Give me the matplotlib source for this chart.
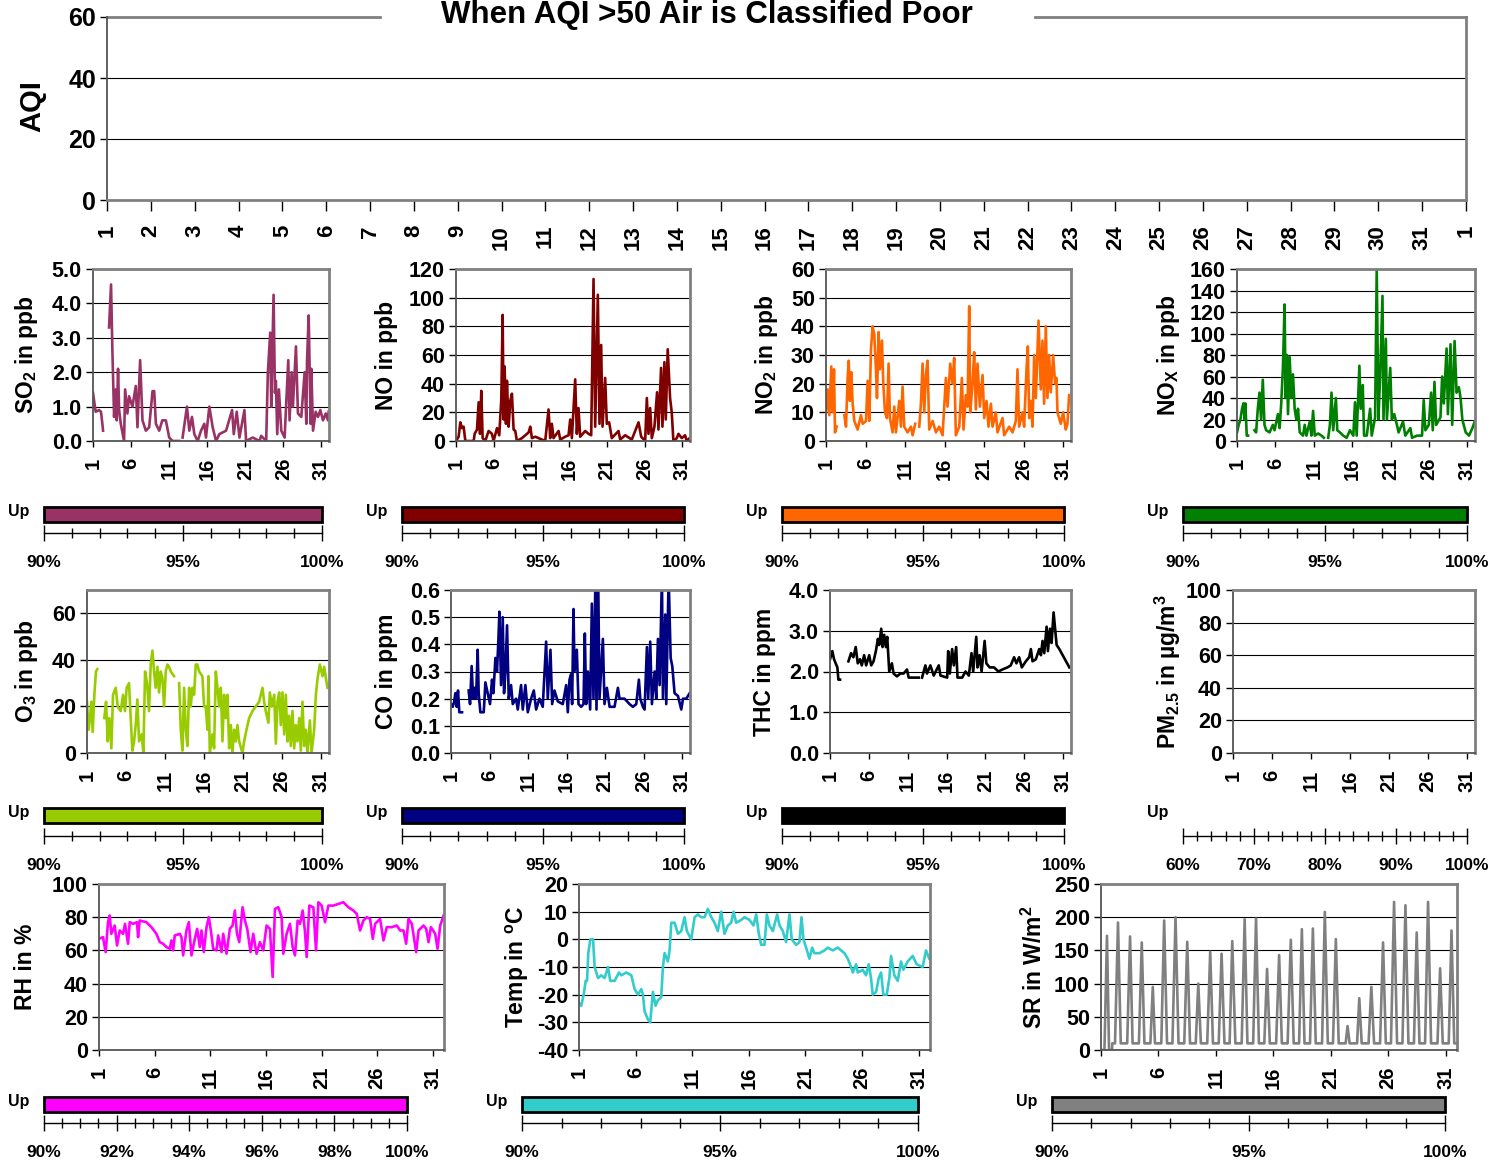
import numpy as np
import matplotlib
matplotlib.use("Agg")
import matplotlib.pyplot as plt
from matplotlib.ticker import MultipleLocator, FuncFormatter

W, H = 1506, 1162

plt.rcParams["font.family"] = ["Liberation Sans", "DejaVu Sans"]
plt.rcParams["font.weight"] = "bold"
plt.rcParams["mathtext.fontset"] = "custom"
plt.rcParams["mathtext.rm"] = "Liberation Sans:bold"
plt.rcParams["mathtext.it"] = "Liberation Sans:bold"
plt.rcParams["mathtext.bf"] = "Liberation Sans:bold"
plt.rcParams["mathtext.default"] = "rm"

nan = np.nan

# ---------- data: (day of month, value) ----------
AQI_DAYS = list(range(1, 33))
AQI_DAY_LABELS = [str(d) for d in range(1, 32)] + ["1"]
PANEL_DAYS = [1, 6, 11, 16, 21, 26, 31]

SO2 = [(1.0, 1.4), (1.35, 0.85), (1.79, 0.9), (2.05, 0.85), (2.23, 0.5), (2.32, 0.3),
       (2.7, nan), (3.11, 3.3), (3.37, 4.55), (3.55, 2.6), (3.77, 0.7), (3.99, 1.5),
       (4.12, 0.6), (4.29, 2.1), (4.43, 0.9), (4.65, 0.5), (5.08, 0.0), (5.22, 1.5),
       (5.52, 0.8), (5.74, 1.3), (6.18, 1.0), (6.62, 1.6), (6.84, 0.4), (7.19, 2.35),
       (7.5, 0.6), (7.94, 0.3), (8.38, 0.4), (8.82, 1.45), (9.04, 1.45), (9.26, 0.5),
       (9.7, 0.3), (10.1, 0.6), (10.57, 0.6), (11.01, 0.1), (11.45, 0.0), (11.9, 0.0),
       (12.33, 0.0), (12.55, nan), (12.77, 0.1), (13.34, 1.0), (13.65, 0.3), (14.0, 0.7),
       (14.31, 0.2), (14.75, 0.0), (15.19, 0.3), (15.62, 0.5), (15.84, 0.1), (16.28, 1.0),
       (16.72, 0.4), (17.16, 0.0), (17.6, 0.2), (18.48, 0.3), (19.27, 0.9), (19.49, 0.2),
       (19.88, 0.85), (20.24, 0.1), (20.89, 0.9), (21.11, 0.0), (21.99, 0.1), (22.87, 0.0),
       (23.09, 0.15), (23.75, 0.0), (23.97, 2.0), (24.28, 3.15), (24.41, 1.0), (24.72, 4.25),
       (24.9, 1.4), (25.02, 1.75), (25.2, 0.2), (25.42, 1.5), (25.73, 0.3), (26.17, 0.1),
       (26.65, 2.35), (26.82, 0.6), (27.09, 2.0), (27.26, 1.0), (27.66, 2.75), (27.92, 0.8),
       (28.36, 0.7), (28.8, 2.0), (29.02, 0.5), (29.11, 2.3), (29.33, 3.65), (29.59, 0.5),
       (29.68, 2.1), (29.9, 0.3), (30.25, 0.85), (30.56, 0.7), (30.86, 0.9), (31.21, 0.6),
       (31.57, 0.8), (31.87, 0.6), (31.95, 0.85)]

NO = [(1.0, 0), (1.35, 3), (1.57, 13), (1.8, 9), (2.01, 10), (2.24, 0), (3.34, 0), (3.47, 5),
      (3.78, 8), (4.0, 27), (4.18, 5), (4.35, 35), (4.53, 2), (4.88, 0), (5.32, 7), (5.76, 5),
      (5.98, 0), (6.43, 9), (6.73, 4), (7.0, 29), (7.18, 88), (7.31, 15), (7.44, 52),
      (7.62, 12), (7.75, 42), (7.97, 10), (8.19, 28), (8.41, 33), (8.63, 8), (8.85, 7),
      (9.07, 0), (9.73, 2), (10.18, 4), (10.62, 6), (10.84, 10), (11.06, 2), (11.5, 3),
      (12.38, 1), (12.82, 0), (13.26, 22), (13.48, 2), (13.7, 12), (13.92, 2), (14.59, 7),
      (14.81, 1), (15.47, 3), (15.91, 4), (16.13, 15), (16.35, 2), (16.79, 43), (17.01, 5),
      (17.23, 23), (17.45, 3), (18.12, 7), (18.56, 5), (18.91, 4), (19.22, 113), (19.44, 10),
      (19.79, 102), (20.01, 12), (20.23, 67), (20.41, 10), (20.76, 44), (20.98, 12),
      (21.29, 13), (21.64, 2), (22.53, 7), (22.75, 1), (23.41, 4), (24.29, 1), (25.18, 13),
      (25.53, 3), (26.06, 0), (26.28, 30), (26.5, 5), (26.72, 23), (26.94, 2), (27.29, 10),
      (27.64, 34), (27.82, 8), (28.17, 51), (28.35, 10), (28.61, 55), (28.79, 15),
      (29.05, 64), (29.36, 30), (29.58, 20), (29.8, 0), (30.25, 2), (30.47, 5), (30.91, 2),
      (31.35, 4), (31.57, 0), (31.95, 2)]

NO2 = [(1.0, 10), (1.21, 18), (1.42, 9), (1.67, 26), (1.84, 10), (2.01, 25), (2.14, 3),
       (2.35, 5), (2.8, nan), (3.32, 9), (3.53, 5), (3.74, 22), (3.87, 28), (4.03, 14),
       (4.2, 24), (4.37, 13), (4.58, 7), (5.0, 4), (5.42, 9), (5.64, 6), (6.06, 7), (6.27, 21),
       (6.48, 7), (6.69, 32), (6.9, 40), (7.11, 37), (7.32, 25), (7.45, 15), (7.66, 38),
       (7.83, 25), (8.08, 35), (8.25, 20), (8.46, 10), (8.71, 8), (8.92, 27), (9.09, 8),
       (9.43, 3), (9.64, 12), (9.85, 3), (10.27, 14), (10.48, 5), (10.69, 19), (10.9, 5),
       (11.32, 3), (11.75, 5), (11.96, 2), (12.29, 6), (12.5, nan), (12.8, 5), (13.01, 13),
       (13.22, 27), (13.43, 10), (13.64, 23), (13.85, 28), (14.06, 4), (14.49, 7), (14.91, 3),
       (15.33, 5), (15.75, 2), (16.17, 22), (16.38, 12), (16.72, 27), (17.01, 20), (17.22, 29),
       (17.43, 2), (17.86, 5), (18.19, 22), (18.4, 4), (18.7, 16), (18.91, 12), (19.12, 47),
       (19.25, 10), (19.54, 20), (19.75, 31), (19.96, 11), (20.17, 27), (20.47, 12),
       (20.81, 23), (21.02, 8), (21.31, 14), (21.56, 5), (21.86, 13), (22.07, 5), (22.49, 10),
       (22.7, 3), (23.33, 8), (23.54, 2), (24.18, 5), (24.6, 3), (25.02, 7), (25.23, 25),
       (25.44, 5), (25.86, 10), (26.07, 5), (26.37, 25), (26.54, 33), (26.71, 8), (26.92, 14),
       (27.13, 5), (27.34, 30), (27.55, 15), (27.89, 42), (28.18, 18), (28.39, 35), (28.6, 13),
       (28.81, 40), (29.02, 15), (29.23, 30), (29.44, 17), (29.74, 30), (29.99, 20),
       (30.16, 22), (30.29, 10), (30.71, 6), (31.0, 10), (31.34, 4), (31.55, 6), (31.76, 16)]

NOX = [(1.0, 8), (1.22, 15), (1.44, 20), (1.66, 30), (1.83, 35), (2.0, 20), (2.09, 35),
       (2.27, 5), (2.44, 5), (2.9, nan), (3.27, 10), (3.49, 8), (3.71, 30), (3.93, 45),
       (4.14, 20), (4.36, 57), (4.58, 15), (4.8, 10), (5.24, 8), (5.67, 15), (5.89, 10),
       (6.33, 25), (6.55, 12), (6.76, 35), (6.98, 68), (7.2, 127), (7.33, 40), (7.5, 80),
       (7.64, 25), (7.86, 78), (8.07, 40), (8.29, 62), (8.51, 30), (8.73, 20), (8.95, 30),
       (9.17, 8), (9.6, 5), (9.82, 15), (10.04, 5), (10.48, 18), (10.69, 5), (10.91, 28),
       (11.13, 5), (11.57, 7), (12.0, 5), (12.31, 3), (12.6, nan), (12.88, 3), (13.1, 15),
       (13.31, 45), (13.53, 10), (13.88, 40), (14.06, 10), (14.41, 8), (14.84, 5), (15.28, 3),
       (15.72, 10), (16.15, 5), (16.37, 36), (16.59, 5), (16.94, 70), (17.11, 30), (17.38, 52),
       (17.55, 5), (17.9, 5), (18.34, 30), (18.55, 5), (18.99, 22), (19.2, 160), (19.42, 20),
       (19.64, 60), (19.95, 135), (20.08, 20), (20.39, 95), (20.52, 20), (20.96, 68),
       (21.17, 20), (21.48, 25), (21.83, 15), (22.05, 8), (22.62, 18), (22.92, 5), (23.58, 12),
       (23.8, 3), (24.45, 5), (25.1, 5), (25.32, 38), (25.54, 10), (25.98, 15), (26.28, 45),
       (26.5, 10), (26.72, 55), (26.94, 15), (27.5, 22), (27.72, 60), (27.94, 35), (28.3, 86),
       (28.47, 25), (28.81, 90), (29.03, 15), (29.34, 93), (29.6, 45), (29.9, 50), (30.12, 40),
       (30.35, 20), (30.79, 8), (31.22, 5), (31.66, 12), (31.96, 18)]

O3 = [(1.0, 22), (1.21, 10), (1.38, 15), (1.56, 22), (1.73, 9), (1.94, 25), (2.15, 35),
      (2.32, 36), (2.8, nan), (3.22, 15), (3.44, 22), (3.65, 5), (3.86, 15), (4.12, 2),
      (4.33, 25), (4.68, 28), (4.93, 20), (5.32, 18), (5.62, 25), (5.87, 18), (6.08, 28),
      (6.38, 30), (6.6, 15), (6.81, 1), (7.03, 5), (7.24, 12), (7.45, 23), (7.67, 5),
      (8.01, 8), (8.22, 0), (8.44, 35), (8.69, 30), (8.95, 18), (9.16, 38), (9.38, 44),
      (9.59, 35), (9.8, 28), (10.02, 37), (10.23, 26), (10.44, 35), (10.66, 32), (10.87, 20),
      (11.09, 35), (11.3, 38), (11.51, 37), (11.73, 35), (12.15, 33), (12.5, nan), (12.8, 30),
      (13.01, 10), (13.22, 1), (13.44, 28), (13.65, 10), (13.86, 3), (14.08, 28), (14.29, 20),
      (14.5, 28), (14.72, 25), (14.93, 38), (15.14, 38), (15.36, 35), (15.78, 33), (16.0, 20),
      (16.21, 20), (16.43, 10), (16.56, 33), (16.73, 0), (17.07, 8), (17.28, 2), (17.5, 35),
      (17.71, 28), (17.92, 20), (18.14, 28), (18.35, 5), (18.56, 25), (18.78, 15), (18.99, 25),
      (19.21, 2), (19.42, 12), (19.63, 0), (19.85, 10), (20.06, 5), (20.27, 12), (20.49, 5),
      (20.91, 0), (21.13, 5), (21.43, 10), (21.77, 15), (22.2, 18), (22.62, 20), (23.05, 22),
      (23.48, 28), (23.69, 22), (23.9, 18), (24.24, 13), (24.42, 26), (24.68, 20), (24.98, 25),
      (25.19, 4), (25.4, 22), (25.62, 26), (25.83, 12), (26.04, 26), (26.26, 8), (26.47, 25),
      (26.68, 5), (26.9, 16), (27.11, 3), (27.32, 18), (27.54, 2), (27.75, 12), (27.96, 5),
      (28.18, 15), (28.39, 1), (28.6, 22), (28.82, 3), (29.03, 10), (29.24, 0), (29.55, 14),
      (29.76, 0), (30.1, 10), (30.32, 25), (30.53, 32), (30.83, 38), (31.17, 33), (31.38, 37),
      (31.8, 28)]

CO = [(1.0, 0.18), (1.22, 0.17), (1.43, 0.19), (1.56, 0.22), (1.74, 0.17), (1.91, 0.23),
      (2.08, 0.15), (2.43, 0.15), (2.9, nan), (3.29, 0.23), (3.47, 0.18), (3.68, 0.32),
      (3.86, 0.20), (4.03, 0.24), (4.25, 0.20), (4.46, 0.38), (4.59, 0.22), (4.81, 0.15),
      (5.24, 0.15), (5.33, 0.19), (5.46, 0.26), (5.76, 0.22), (6.06, 0.18), (6.32, 0.27),
      (6.5, 0.22), (6.76, 0.35), (6.97, 0.30), (7.15, 0.42), (7.28, 0.52), (7.49, 0.25),
      (7.71, 0.50), (7.88, 0.22), (8.06, 0.30), (8.27, 0.47), (8.49, 0.20), (8.79, 0.25),
      (9.01, 0.18), (9.44, 0.20), (9.66, 0.16), (10.09, 0.25), (10.31, 0.16), (10.65, 0.25),
      (10.96, 0.15), (11.39, 0.20), (11.74, 0.23), (12.04, 0.16), (12.47, 0.20), (12.9, 0.17),
      (13.34, 0.41), (13.55, 0.20), (13.9, 0.38), (14.12, 0.18), (14.42, 0.23), (14.85, 0.19),
      (15.5, 0.18), (15.94, 0.25), (16.15, 0.15), (16.37, 0.27), (16.58, 0.29), (16.71, 0.18),
      (16.89, 0.53), (17.02, 0.30), (17.32, 0.38), (17.54, 0.18), (17.88, 0.17), (18.19, 0.18),
      (18.36, 0.44), (18.53, 0.18), (18.75, 0.30), (19.05, 0.16), (19.27, 0.55), (19.48, 0.20),
      (19.74, 0.65), (19.87, 0.16), (20.09, 0.65), (20.26, 0.20), (20.7, 0.42), (20.91, 0.18),
      (21.22, 0.24), (21.57, 0.17), (22.21, 0.17), (22.65, 0.24), (22.86, 0.20), (23.51, 0.20),
      (24.16, 0.18), (24.59, 0.17), (25.03, 0.18), (25.37, 0.27), (25.55, 0.20), (25.89, 0.17),
      (26.11, 0.16), (26.41, 0.39), (26.58, 0.20), (26.84, 0.41), (27.06, 0.18), (27.41, 0.30),
      (27.62, 0.20), (27.84, 0.42), (28.06, 0.25), (28.36, 0.65), (28.49, 0.20), (28.79, 0.51),
      (28.92, 0.18), (29.23, 0.65), (29.49, 0.35), (29.7, 0.32), (30.0, 0.22), (30.44, 0.21),
      (30.87, 0.16), (31.09, 0.20), (31.52, 0.20), (31.95, 0.22)]

THC = [(1.0, 2.3), (1.3, 2.5), (1.52, 2.3), (1.73, 2.2), (1.95, 2.1), (2.08, 1.8), (2.29, 1.8),
       (2.8, nan), (3.37, 2.25), (3.71, 2.45), (4.01, 2.35), (4.31, 2.6), (4.57, 2.2),
       (4.87, 2.3), (5.09, 2.15), (5.39, 2.4), (5.65, 2.15), (6.04, 2.4), (6.3, 2.15),
       (6.6, 2.25), (6.9, 2.5), (7.16, 2.8), (7.33, 2.65), (7.59, 3.05), (7.76, 2.6),
       (7.97, 2.9), (8.19, 2.6), (8.36, 2.85), (8.62, 2.0), (8.96, 2.2), (9.18, 1.95),
       (9.61, 1.88), (10.04, 1.95), (10.47, 1.95), (10.9, 2.05), (11.12, 1.85), (11.55, 1.85),
       (12.41, 1.85), (12.6, nan), (12.84, 1.85), (13.27, 2.15), (13.48, 1.95), (13.91, 2.15),
       (14.34, 1.9), (14.99, 2.15), (15.21, 1.9), (16.07, 1.85), (16.2, 2.5), (16.41, 1.95),
       (16.71, 2.55), (16.93, 2.15), (17.23, 2.6), (17.4, 1.85), (18.0, 1.85), (18.43, 2.0),
       (18.86, 1.9), (19.2, 2.45), (19.42, 2.0), (19.81, 2.85), (19.98, 2.1), (20.24, 2.4),
       (20.5, 2.0), (20.89, 2.75), (21.11, 2.2), (21.54, 2.1), (22.1, 2.1), (22.66, 2.0),
       (23.18, 2.05), (23.82, 2.1), (24.25, 2.15), (24.68, 2.35), (24.98, 2.2), (25.33, 2.35),
       (25.67, 2.1), (26.19, 2.25), (26.62, 2.35), (26.84, 2.55), (27.05, 2.25), (27.48, 2.3),
       (27.91, 2.55), (28.13, 2.4), (28.34, 2.75), (28.56, 2.45), (28.86, 3.1), (29.03, 2.5),
       (29.29, 3.05), (29.5, 2.7), (29.76, 3.45), (29.98, 3.0), (30.15, 2.65), (30.5, 2.55),
       (30.93, 2.4), (31.36, 2.25), (31.79, 2.1)]

PM25 = []

RH = [(1.0, 67), (1.36, 68), (1.6, 59), (1.81, 77), (1.96, 81), (2.11, 70), (2.41, 75),
      (2.62, 63), (2.86, 72), (3.16, 70), (3.34, 76), (3.61, 64), (3.76, 77), (4.06, 76),
      (4.42, 77), (4.51, 68), (4.66, 78), (5.26, 77), (5.71, 74), (6.16, 70), (6.46, 65),
      (6.76, 64), (7.06, 62), (7.36, 61), (7.51, 66), (7.66, 60), (7.81, 69), (8.26, 70),
      (8.41, 68), (8.56, 57), (8.86, 72), (9.07, 77), (9.31, 57), (9.61, 67), (9.82, 73),
      (10.06, 62), (10.21, 72), (10.42, 59), (10.66, 74), (10.87, 80), (11.05, 72),
      (11.26, 61), (11.56, 60), (11.71, 69), (12.01, 59), (12.16, 70), (12.46, 58),
      (12.76, 73), (13.0, 75), (13.21, 84), (13.4, 70), (13.6, 65), (13.9, 86), (14.11, 78),
      (14.32, 73), (14.62, 59), (14.86, 70), (15.16, 58), (15.46, 65), (15.76, 60),
      (16.06, 75), (16.36, 73), (16.6, 44), (16.81, 85), (17.11, 86), (17.41, 80),
      (17.56, 58), (17.86, 70), (18.16, 76), (18.4, 62), (18.61, 57), (18.85, 78),
      (19.06, 76), (19.3, 84), (19.5, 72), (19.66, 56), (19.9, 87), (20.26, 86), (20.5, 60),
      (20.71, 89), (21.01, 87), (21.31, 77), (21.61, 87), (22.06, 87), (22.51, 88),
      (22.96, 89), (23.41, 86), (23.86, 84), (24.16, 82), (24.46, 72), (24.76, 78),
      (25.06, 80), (25.36, 79), (25.6, 67), (25.81, 76), (26.26, 79), (26.56, 66),
      (26.86, 74), (27.31, 74), (27.76, 75), (28.06, 72), (28.36, 72), (28.6, 64),
      (28.81, 79), (29.11, 76), (29.5, 59), (29.71, 72), (30.16, 75), (30.4, 73),
      (30.61, 65), (30.82, 74), (31.21, 70), (31.42, 61), (31.66, 75), (31.96, 81)]

TEMP = [(1.0, -23), (1.2, -24), (1.41, -20), (1.59, -15), (1.71, -15), (1.82, -5), (2.0, 0),
        (2.24, 0), (2.38, -10), (2.68, -14), (2.97, -13), (3.26, -14), (3.56, -10),
        (3.76, -15), (4.15, -15), (4.53, -12), (4.74, -13), (5.18, -12), (5.62, -13),
        (5.91, -18), (6.21, -20), (6.5, -18), (6.65, -20), (6.79, -26), (7.09, -29),
        (7.29, -30), (7.53, -19), (7.76, -24), (7.97, -22), (8.26, -21), (8.41, -10),
        (8.56, -5), (8.85, -8), (9.0, -4), (9.15, 6), (9.44, 6), (9.74, 2), (10.03, 3),
        (10.32, 8), (10.53, 3), (10.91, 0), (11.21, 8), (11.5, 9), (11.79, 8), (12.09, 8),
        (12.38, 11), (12.68, 8), (12.97, 6), (13.26, 3), (13.56, 10), (13.85, 2), (14.15, 5),
        (14.44, 6), (14.65, 10), (14.88, 6), (15.32, 7), (15.62, 8), (16.06, 7), (16.41, 5),
        (16.65, 9), (16.88, 2), (17.09, -2), (17.38, -2), (17.59, 9), (17.82, 5), (18.12, 3),
        (18.5, 9), (18.71, 5), (19.0, 3), (19.29, -1), (19.59, 9), (19.79, 0), (20.18, -2),
        (20.47, -1), (20.65, 8), (20.82, 0), (21.06, -3), (21.35, -7), (21.59, -3),
        (21.79, -5), (22.24, -5), (22.68, -4), (22.97, -3), (23.41, -4), (23.85, -3),
        (24.15, -4), (24.44, -5), (24.74, -7), (25.03, -10), (25.18, -12), (25.47, -9),
        (25.62, -12), (26.06, -11), (26.35, -13), (26.59, -9), (26.79, -14), (26.94, -20),
        (27.24, -19), (27.47, -14), (27.68, -12), (27.88, -20), (28.18, -20), (28.41, -14),
        (28.56, -6), (28.85, -13), (29.15, -15), (29.44, -8), (29.65, -11), (30.03, -8),
        (30.47, -6), (30.82, -9), (31.35, -10), (31.65, -4), (31.94, -7)]

SR = [(1.0, 0), (1.3, 0), (1.52, 172), (1.7, 0), (1.96, 0), (1.98, 10), (2.22, 10),
      (2.48, 192), (2.72, 10), (3.28, 10), (3.53, 171), (3.75, 10), (4.3, 10), (4.55, 162),
      (4.78, 10), (5.3, 10), (5.51, 95), (5.7, 10), (6.25, 10), (6.5, 195), (6.75, 10),
      (7.22, 10), (7.49, 200), (7.75, 10), (8.25, 10), (8.51, 163), (8.75, 10), (9.25, 10),
      (9.47, 100), (9.7, 10), (10.25, 10), (10.51, 148), (10.75, 10), (11.25, 10),
      (11.5, 145), (11.75, 10), (12.2, 10), (12.43, 164), (12.7, 10), (13.25, 10),
      (13.51, 197), (13.75, 10), (14.25, 10), (14.5, 198), (14.75, 10), (15.22, 10),
      (15.46, 122), (15.7, 10), (16.25, 10), (16.51, 143), (16.75, 10), (17.25, 10),
      (17.53, 166), (17.78, 10), (18.25, 10), (18.49, 182), (18.72, 10), (19.2, 10),
      (19.45, 183), (19.7, 10), (20.25, 10), (20.49, 208), (20.75, 10), (21.2, 10),
      (21.45, 167), (21.7, 10), (22.3, 10), (22.47, 36), (22.65, 10), (23.3, 10),
      (23.49, 78), (23.7, 10), (24.3, 10), (24.54, 95), (24.78, 10), (25.3, 10),
      (25.56, 162), (25.8, 10), (26.25, 10), (26.52, 223), (26.78, 10), (27.25, 10),
      (27.51, 218), (27.77, 10), (28.25, 10), (28.49, 177), (28.73, 10), (29.22, 10),
      (29.48, 223), (29.74, 10), (30.3, 10), (30.53, 123), (30.76, 10), (31.28, 10),
      (31.52, 180), (31.76, 10), (32.0, 10)]

# data completeness ("Up" time) in percent; None = no bar
UP_PCT = {"SO2": 100, "NO": 100, "NO2": 100, "NOX": 100, "O3": 100, "CO": 100,
          "THC": 100, "PM25": None, "RH": 100, "TEMP": 100, "SR": 100}

COLORS = {"SO2": "#993366", "NO": "#800000", "NO2": "#FF6600", "NOX": "#008000",
          "O3": "#99CC00", "CO": "#000080", "THC": "#000000", "PM25": "#808080",
          "RH": "#FF00FF", "TEMP": "#33CCCC", "SR": "#808080"}


def px_rect(l, r, t, b):
    return [l / W, 1 - b / H, (r - l) / W, (b - t) / H]


def frame(ax):
    for side in ("top", "right"):
        ax.spines[side].set_color("#808080")
        ax.spines[side].set_linewidth(2)
    for side in ("left", "bottom"):
        ax.spines[side].set_color("#555555")
        ax.spines[side].set_linewidth(1.3)


def series_panel(fig, box, pairs, color, ylim, yticks, fmt, ylabel, label_x):
    l, r, t, b = box
    ax = fig.add_axes(px_rect(l, r, t, b))
    if pairs:
        d = np.array([p[0] for p in pairs])
        v = np.array([p[1] for p in pairs], dtype=float)
        ax.plot(d, v, color=color, lw=1.9)
    ax.set_xlim(1, 32)
    ax.set_ylim(*ylim)
    ax.set_yticks(yticks)
    ax.set_yticklabels([fmt.format(y) for y in yticks])
    ax.yaxis.grid(True, color="black", lw=0.8)
    ax.set_axisbelow(True)
    ax.set_xticks(PANEL_DAYS)
    ax.set_xticklabels([str(d) for d in PANEL_DAYS], rotation=90, va="top")
    ax.tick_params(axis="x", length=4, width=1, pad=8, labelsize=14.5)
    ax.tick_params(axis="y", length=5, width=1, pad=3, labelsize=15.5)
    frame(ax)
    fig.text(label_x / W, 1 - (t + b) / 2 / H, ylabel, rotation=90, ha="center",
             va="center", fontsize=16.5, fontweight="bold")
    return ax


def scale_panel(fig, l, r, bar_t, bar_b, line_y, lo, hi, minor, major, pct, color):
    ax = fig.add_axes(px_rect(l, r, bar_t, line_y))
    ax.set_xlim(lo, hi)
    ax.set_ylim(line_y, bar_t)
    if pct is not None:
        ax.barh((bar_t + bar_b) / 2, pct - lo, left=lo, height=bar_b - bar_t,
                color=color, edgecolor="black", lw=2, clip_on=False)
    for side in ("top", "left", "right"):
        ax.spines[side].set_visible(False)
    ax.spines["bottom"].set_color("black")
    ax.spines["bottom"].set_linewidth(1)
    ax.set_yticks([])
    ax.xaxis.set_major_locator(MultipleLocator(major))
    ax.xaxis.set_minor_locator(MultipleLocator(minor))
    ax.xaxis.set_major_formatter(FuncFormatter(lambda v, p: f"{v:g}%"))
    ax.tick_params(axis="x", which="major", direction="inout", length=12, width=1,
                   pad=10, labelsize=12.5)
    ax.tick_params(axis="x", which="minor", direction="inout", length=7, width=1)
    fig.text((l - 15) / W, 1 - ((bar_t + bar_b) / 2 - 3) / H, "Up", ha="right",
             va="center", fontsize=11.5, fontweight="bold")


fig = plt.figure(figsize=(W / 100, H / 100), dpi=100)

# ---------- AQI strip ----------
ax = fig.add_axes(px_rect(107, 1466, 17, 200))
ax.set_xlim(1, 32)
ax.set_ylim(0, 60)
ax.set_yticks([0, 20, 40, 60])
for level in (20, 40):
    ax.axhline(level, color="black", lw=0.8, zorder=0.5)
ax.set_xticks(AQI_DAYS)
ax.set_xticklabels(AQI_DAY_LABELS, rotation=90, va="top")
ax.tick_params(axis="x", length=8, width=1, pad=10, labelsize=16)
ax.tick_params(axis="y", length=5, width=1, pad=3, labelsize=18)
frame(ax)
ax.spines["bottom"].set_color("#808080")
ax.spines["bottom"].set_linewidth(2)
ax.spines["top"].set_visible(False)
ax.axhline(60, xmin=0, xmax=(380 - 107) / 1359, color="#808080", lw=2, clip_on=False)
ax.axhline(60, xmin=(1035 - 107) / 1359, xmax=1, color="#808080", lw=2, clip_on=False)
fig.text(707 / W, 1 - 15 / H, "When AQI >50 Air is Classified Poor", ha="center",
         va="center", fontsize=22.5, fontweight="bold")
fig.text(32 / W, 1 - 106 / H, "AQI", rotation=90, ha="center", va="center",
         fontsize=21, fontweight="bold")

# ---------- row 1 ----------
series_panel(fig, (93, 329, 269, 441), SO2, COLORS["SO2"], (0, 5), [0, 1, 2, 3, 4, 5],
             "{:.1f}", "SO$_2$ in ppb", 27)
series_panel(fig, (456, 690, 269, 441), NO, COLORS["NO"], (0, 120), list(range(0, 121, 20)),
             "{:d}", "NO in ppb", 387)
series_panel(fig, (826, 1071, 269, 441), NO2, COLORS["NO2"], (0, 60), list(range(0, 61, 10)),
             "{:d}", "NO$_2$ in ppb", 767)
series_panel(fig, (1237, 1475, 269, 441), NOX, COLORS["NOX"], (0, 160), list(range(0, 161, 20)),
             "{:d}", "NO$_X$ in ppb", 1168)

for key, l, r in (("SO2", 44, 322), ("NO", 402, 684), ("NO2", 782, 1064), ("NOX", 1183, 1467)):
    scale_panel(fig, l, r, 507, 522, 533, 90, 100, 1, 5, UP_PCT[key], COLORS[key])

# ---------- row 2 ----------
series_panel(fig, (87, 329, 590, 753), O3, COLORS["O3"], (0, 70), [0, 20, 40, 60],
             "{:d}", "O$_3$ in ppb", 27)
series_panel(fig, (451, 690, 590, 753), CO, COLORS["CO"], (0, 0.6),
             [0, 0.1, 0.2, 0.3, 0.4, 0.5, 0.6], "{:.1f}", "CO in ppm", 387)
series_panel(fig, (830, 1071, 590, 753), THC, COLORS["THC"], (0, 4), [0, 1, 2, 3, 4],
             "{:.1f}", "THC in ppm", 765)
series_panel(fig, (1233, 1475, 590, 753), PM25, COLORS["PM25"], (0, 100),
             list(range(0, 101, 20)), "{:d}", "PM$_{2.5}$ in µg/m$^3$", 1168)

for key, l, r in (("O3", 44, 322), ("CO", 402, 684), ("THC", 782, 1064)):
    scale_panel(fig, l, r, 808, 823, 836, 90, 100, 1, 5, UP_PCT[key], COLORS[key])
scale_panel(fig, 1183, 1467, 808, 823, 836, 60, 100, 2, 10, UP_PCT["PM25"], COLORS["PM25"])

# ---------- row 3 ----------
series_panel(fig, (99, 444, 884, 1050), RH, COLORS["RH"], (0, 100), list(range(0, 101, 20)),
             "{:d}", "RH in %", 26)
series_panel(fig, (579, 930, 884, 1050), TEMP, COLORS["TEMP"], (-40, 20),
             list(range(-40, 21, 10)), "{:d}", "Temp in $^o$C", 517)
series_panel(fig, (1101, 1457, 884, 1050), SR, COLORS["SR"], (0, 250), list(range(0, 251, 50)),
             "{:d}", "SR in W/m$^2$", 1034)

scale_panel(fig, 44, 407, 1097, 1112, 1123, 90, 100, 0.5, 2, UP_PCT["RH"], COLORS["RH"])
scale_panel(fig, 522, 918, 1097, 1112, 1123, 90, 100, 1, 5, UP_PCT["TEMP"], COLORS["TEMP"])
scale_panel(fig, 1052, 1445, 1097, 1112, 1123, 90, 100, 1, 5, UP_PCT["SR"], COLORS["SR"])

fig.savefig("out.png", dpi=100)
